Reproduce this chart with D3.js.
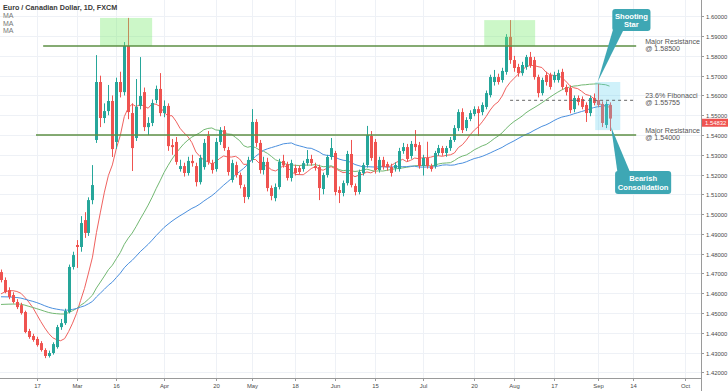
<!DOCTYPE html>
<html>
<head>
<meta charset="utf-8">
<script src="https://cdn.jsdelivr.net/npm/d3@7"></script>
<style>
  html, body { margin: 0; padding: 0; background: #fff; }
  svg { display: block; font-family: "Liberation Sans", Arial, sans-serif; }
</style>
</head>
<body>
<svg id="chart" width="728" height="391"></svg>
<script>
// EUR/CAD daily, FXCM, 4 Feb 2020 .. 4 Sep 2020
const firstDay = "2020-02-04";

const open = [
  1.4707,1.4667,1.4616,1.4591,1.4556,1.4540,1.4505,1.4409,1.4384,1.4369,1.4348,1.4313,1.4283,1.4298,1.4328,1.4429,1.4449,1.4505,1.4733,1.4844,
  1.4834,1.4970,1.4905,1.5071,1.5375,1.5668,1.5486,1.5521,1.5572,1.5365,1.5668,1.5617,1.5850,1.5511,1.5385,1.5547,1.5617,1.5440,1.5461,1.5577,
  1.5633,1.5511,1.5547,1.5349,1.5365,1.5228,1.5243,1.5208,1.5269,1.5243,1.5162,1.5238,1.5395,1.5258,1.5228,1.5365,1.5425,1.5324,1.5173,1.5248,
  1.5198,1.5137,1.5087,1.5274,1.5466,1.5360,1.5223,1.5264,1.5132,1.5081,1.5137,1.5269,1.5253,1.5183,1.5233,1.5233,1.5228,1.5258,1.5279,1.5243,
  1.5238,1.5127,1.5198,1.5289,1.5309,1.5122,1.5107,1.5157,1.5304,1.5142,1.5112,1.5208,1.5248,1.5395,1.5365,1.5223,1.5274,1.5253,1.5238,1.5233,
  1.5228,1.5319,1.5339,1.5294,1.5355,1.5349,1.5243,1.5284,1.5243,1.5243,1.5309,1.5334,1.5309,1.5334,1.5375,1.5435,1.5516,1.5435,1.5481,1.5506,
  1.5531,1.5516,1.5542,1.5602,1.5668,1.5693,1.5678,1.5719,1.5896,1.5779,1.5744,1.5713,1.5744,1.5794,1.5779,1.5693,1.5612,1.5703,1.5703,1.5678,
  1.5678,1.5719,1.5643,1.5638,1.5531,1.5587,1.5582,1.5552,1.5511,1.5587,1.5577,1.5557,1.5451,1.5552
];
const high = [
  1.4720,1.4680,1.4630,1.4605,1.4570,1.4552,1.4512,1.4420,1.4395,1.4380,1.4358,1.4322,1.4310,1.4352,1.4440,1.4470,1.4522,1.4745,1.4810,1.4869,
  1.4990,1.5010,1.5085,1.5248,1.5804,1.5700,1.5560,1.5653,1.5600,1.5690,1.5720,1.5870,1.5992,1.5560,1.5683,1.5794,1.5640,1.5490,1.5580,1.5650,
  1.5713,1.5575,1.5560,1.5380,1.5390,1.5275,1.5260,1.5290,1.5300,1.5260,1.5300,1.5380,1.5420,1.5275,1.5385,1.5440,1.5445,1.5340,1.5275,1.5265,
  1.5210,1.5150,1.5290,1.5531,1.5480,1.5375,1.5290,1.5285,1.5145,1.5155,1.5280,1.5300,1.5265,1.5275,1.5250,1.5245,1.5270,1.5324,1.5300,1.5260,
  1.5250,1.5210,1.5300,1.5385,1.5320,1.5140,1.5170,1.5320,1.5375,1.5155,1.5225,1.5260,1.5446,1.5420,1.5380,1.5290,1.5290,1.5265,1.5255,1.5262,
  1.5335,1.5360,1.5355,1.5370,1.5425,1.5365,1.5300,1.5366,1.5255,1.5320,1.5350,1.5345,1.5345,1.5390,1.5450,1.5530,1.5535,1.5490,1.5525,1.5545,
  1.5545,1.5565,1.5625,1.5705,1.5729,1.5710,1.5740,1.5910,1.5981,1.5800,1.5760,1.5770,1.5805,1.5820,1.5795,1.5705,1.5690,1.5720,1.5715,1.5720,
  1.5730,1.5735,1.5655,1.5650,1.5600,1.5600,1.5595,1.5565,1.5600,1.5610,1.5658,1.5570,1.5570,1.5565
];
const low = [
  1.4655,1.4600,1.4570,1.4548,1.4520,1.4492,1.4398,1.4370,1.4355,1.4330,1.4305,1.4272,1.4275,1.4290,1.4320,1.4415,1.4440,1.4498,1.4720,1.4728,
  1.4810,1.4880,1.4890,1.5050,1.5360,1.5440,1.5460,1.5500,1.5289,1.5330,1.5590,1.5600,1.5480,1.5218,1.5370,1.5530,1.5420,1.5400,1.5445,1.5560,
  1.5495,1.5490,1.5320,1.5300,1.5250,1.5215,1.5190,1.5195,1.5240,1.5140,1.5150,1.5225,1.5250,1.5205,1.5215,1.5350,1.5320,1.5195,1.5160,1.5185,
  1.5130,1.5056,1.5075,1.5260,1.5340,1.5205,1.5200,1.5115,1.5070,1.5065,1.5125,1.5235,1.5170,1.5165,1.5195,1.5200,1.5215,1.5245,1.5245,1.5220,
  1.5071,1.5100,1.5185,1.5275,1.5095,1.5056,1.5090,1.5145,1.5135,1.5095,1.5100,1.5195,1.5235,1.5270,1.5205,1.5210,1.5225,1.5220,1.5190,1.5215,
  1.5215,1.5305,1.5265,1.5280,1.5320,1.5230,1.5195,1.5230,1.5215,1.5230,1.5295,1.5295,1.5290,1.5320,1.5365,1.5420,1.5410,1.5420,1.5470,1.5495,
  1.5395,1.5500,1.5530,1.5590,1.5650,1.5655,1.5665,1.5705,1.5760,1.5720,1.5695,1.5700,1.5730,1.5740,1.5680,1.5590,1.5600,1.5650,1.5630,1.5665,
  1.5665,1.5630,1.5600,1.5510,1.5515,1.5550,1.5530,1.5466,1.5495,1.5550,1.5540,1.5440,1.5435,1.5420
];
const close = [
  1.4667,1.4606,1.4581,1.4556,1.4530,1.4500,1.4404,1.4379,1.4364,1.4338,1.4313,1.4283,1.4298,1.4343,1.4429,1.4449,1.4510,1.4733,1.4793,1.4834,
  1.4955,1.4905,1.5071,1.5147,1.5668,1.5486,1.5521,1.5572,1.5329,1.5668,1.5617,1.5850,1.5516,1.5334,1.5542,1.5597,1.5440,1.5461,1.5562,1.5633,
  1.5511,1.5547,1.5344,1.5339,1.5264,1.5243,1.5208,1.5269,1.5258,1.5162,1.5284,1.5360,1.5264,1.5223,1.5365,1.5425,1.5334,1.5213,1.5258,1.5198,
  1.5147,1.5087,1.5274,1.5466,1.5360,1.5223,1.5264,1.5132,1.5092,1.5137,1.5264,1.5248,1.5183,1.5258,1.5208,1.5213,1.5258,1.5279,1.5258,1.5233,
  1.5132,1.5198,1.5289,1.5334,1.5112,1.5107,1.5157,1.5304,1.5147,1.5112,1.5213,1.5248,1.5400,1.5284,1.5223,1.5274,1.5238,1.5238,1.5208,1.5248,
  1.5319,1.5339,1.5279,1.5355,1.5339,1.5243,1.5284,1.5243,1.5228,1.5309,1.5334,1.5309,1.5334,1.5375,1.5435,1.5516,1.5425,1.5476,1.5511,1.5531,
  1.5511,1.5552,1.5612,1.5693,1.5693,1.5668,1.5724,1.5896,1.5779,1.5739,1.5713,1.5754,1.5794,1.5754,1.5693,1.5612,1.5678,1.5668,1.5643,1.5703,
  1.5713,1.5643,1.5617,1.5526,1.5587,1.5567,1.5542,1.5511,1.5587,1.5562,1.5552,1.5461,1.5557,1.54832
];
// estimated closes of the 49 sessions before the first candle, only to start the moving averages
const warmup = [
  1.4620,1.4605,1.4630,1.4610,1.4645,1.4680,1.4660,1.4630,1.4655,1.4690,1.4700,1.4665,1.4640,1.4620,1.4615,1.4640,1.4660,1.4635,1.4610,1.4600,
  1.4580,1.4560,1.4545,1.4530,1.4520,1.4545,1.4560,1.4540,1.4520,1.4500,1.4490,1.4480,1.4470,1.4485,1.4500,1.4510,1.4520,1.4505,1.4495,1.4480,
  1.4500,1.4530,1.4550,1.4570,1.4590,1.4610,1.4620,1.4640,1.4690
];
const maPeriods = [10, 30, 50];

const priceTicks = [1.42,1.43,1.44,1.45,1.46,1.47,1.48,1.49,1.50,1.51,1.52,1.53,1.54,1.55,1.56,1.57,1.58,1.59,1.60];
const tickDates = ["2020-02-17","2020-03-02","2020-03-16","2020-04-01","2020-04-20","2020-05-01","2020-05-18","2020-06-01",
                   "2020-06-15","2020-07-01","2020-07-20","2020-08-03","2020-08-17","2020-09-01","2020-09-14","2020-10-01"];
const tickLabels = ["17","Mar","16","Apr","20","May","18","Jun","15","Jul","20","Aug","17","Sep","14","Oct"];

const resistance = [1.585, 1.54];
const fibLevel = 1.55755;

class CandleChart {
  constructor(el) {
    this.svg = d3.select(el);
    this.width = 728;
    this.height = 391;
    this.right = 701;
    this.bottom = 378;
    this.up = "#26a69a";
    this.down = "#ef5350";
    this.maColors = ["#f0625f", "#72b872", "#4a8fde"];
    this.axisFont = 5.9;
    this.init();
  }

  init() {
    this.days = this.tradingDays(firstDay, 190);
    this.x = d3.scaleLinear().domain([-0.25, 176]).range([0, this.right]);
    this.y = d3.scaleLinear().domain([1.41716, 1.60826]).range([this.bottom, 0]);
    this.svg.append("defs").append("clipPath").attr("id", "plot")
      .append("rect").attr("width", this.right).attr("height", this.bottom);
    this.addGrid();
    this.plot = this.svg.append("g").attr("clip-path", "url(#plot)");
    this.addMA();
    this.addCandles();
    this.addDrawings();
    this.addAxes();
    this.addTitle();
  }

  tradingDays(start, n) {
    const out = [];
    let d = new Date(start + "T00:00:00Z");
    const fmt = d3.utcFormat("%Y-%m-%d");
    while (out.length < n) {
      const wd = d.getUTCDay();
      if (wd !== 0 && wd !== 6) out.push(fmt(d));
      d = d3.utcDay.offset(d, 1);
    }
    return out;
  }

  addGrid() {
    const g = this.svg.append("g").attr("stroke", "#eef1f6").attr("stroke-width", 1);
    g.selectAll(".hg").data(priceTicks).enter().append("line")
      .attr("x1", 0).attr("x2", this.right)
      .attr("y1", d => Math.round(this.y(d)) + 0.5).attr("y2", d => Math.round(this.y(d)) + 0.5);
    g.selectAll(".vg").data(tickDates).enter().append("line")
      .attr("y1", 0).attr("y2", this.bottom)
      .attr("x1", d => Math.round(this.x(this.days.indexOf(d))) + 0.5)
      .attr("x2", d => Math.round(this.x(this.days.indexOf(d))) + 0.5);
  }

  addMA() {
    const all = warmup.concat(close);
    const off = warmup.length;
    maPeriods.forEach((p, k) => {
      const pts = close.map((c, i) => [i, d3.mean(all.slice(i + off - p + 1, i + off + 1))]);
      this.plot.append("path")
        .attr("fill", "none").attr("stroke", this.maColors[k]).attr("stroke-width", 1)
        .attr("d", d3.line().x(d => this.x(d[0])).y(d => this.y(d[1]))(pts));
    });
  }

  addCandles() {
    const g = this.plot.append("g");
    const data = close.map((c, i) => ({ i, o: open[i], h: high[i], l: low[i], c }));
    const col = d => d.c >= d.o ? this.up : this.down;
    g.selectAll(".wick").data(data).enter().append("line")
      .attr("x1", d => Math.round(this.x(d.i)) + 0.5).attr("x2", d => Math.round(this.x(d.i)) + 0.5)
      .attr("y1", d => this.y(d.h)).attr("y2", d => this.y(d.l))
      .attr("stroke", col).attr("stroke-width", 1);
    g.selectAll(".body").data(data).enter().append("rect")
      .attr("x", d => Math.round(this.x(d.i)) - 1)
      .attr("width", 3)
      .attr("y", d => this.y(Math.max(d.o, d.c)))
      .attr("height", d => Math.max(1, Math.abs(this.y(d.o) - this.y(d.c))))
      .attr("fill", col);
  }

  addDrawings() {
    const x = this.x, y = this.y;
    const g = this.svg.append("g");
    // highlighted zones
    [[24.9, 38.0, 1.5992, 1.585], [121.5, 134.3, 1.5981, 1.585]].forEach(z => {
      g.append("rect").attr("x", x(z[0])).attr("width", x(z[1]) - x(z[0]))
        .attr("y", y(z[2])).attr("height", y(z[3]) - y(z[2]))
        .attr("fill", "rgba(120,235,110,0.38)");
    });
    g.append("rect").attr("x", x(149.4)).attr("width", x(155.7) - x(149.4))
      .attr("y", y(1.5668)).attr("height", y(1.5425) - y(1.5668))
      .attr("fill", "rgba(95,210,240,0.30)");

    // levels
    const starts = [10.6, 8.8];
    const lineEnd = 159.7;
    resistance.forEach((lv, k) => {
      g.append("line").attr("x1", x(starts[k])).attr("x2", x(lineEnd))
        .attr("y1", y(lv)).attr("y2", y(lv))
        .attr("stroke", "#5c8f45").attr("stroke-width", 1.3);
    });
    g.append("line").attr("x1", x(128)).attr("x2", x(lineEnd))
      .attr("y1", y(fibLevel)).attr("y2", y(fibLevel))
      .attr("stroke", "#666").attr("stroke-width", 1).attr("stroke-dasharray", "3,3");

    const labels = [
      [resistance[0], "Major Resistance", "@ " + resistance[0].toFixed(5)],
      [fibLevel, "23.6% Fibonacci", "@ " + fibLevel.toFixed(5)],
      [resistance[1], "Major Resistance", "@ " + resistance[1].toFixed(5)]
    ];
    const lx = x(lineEnd) + 9;
    labels.forEach(l => {
      const t = g.append("text").attr("y", y(l[0]) - 2.2)
        .attr("font-size", 7.1).attr("fill", "#555");
      t.append("tspan").attr("x", lx).text(l[1]);
      t.append("tspan").attr("x", lx).attr("dy", 6.8).text(l[2]);
    });

    // callouts
    const callout = (bx0, bx1, by0, by1, base, tip, lines) => {
      const X0 = x(bx0), X1 = x(bx1), Y0 = y(by0), Y1 = y(by1);
      g.append("path").attr("fill", "#3ea7b4")
        .attr("d", `M${x(base[0])},${y(base[2])}L${x(tip[0])},${y(tip[1])}L${x(base[1])},${y(base[2])}Z`);
      g.append("rect").attr("x", X0).attr("y", Y0).attr("width", X1 - X0).attr("height", Y1 - Y0)
        .attr("rx", 3).attr("fill", "#3ea7b4");
      const t = g.append("text").attr("text-anchor", "middle").attr("font-size", 7.6)
        .attr("font-weight", "bold").attr("fill", "#fff")
        .attr("y", (Y0 + Y1) / 2 - 1.2);
      lines.forEach((s, k) => t.append("tspan").attr("x", (X0 + X1) / 2).attr("dy", k ? 8.6 : 0).text(s));
    };
    callout(153.7, 163.3, 1.6037, 1.5926, [153.9, 156.6, 1.5935], [150.0, 1.5668], ["Shooting", "Star"]);
    callout(154.4, 168.5, 1.5218, 1.5102, [155.0, 158.2, 1.5210], [153.4, 1.5440], ["Bearish", "Consolidation"]);
  }

  addAxes() {
    const g = this.svg.append("g").attr("font-size", this.axisFont).attr("fill", "#4a4a4a");
    g.append("line").attr("x1", 0).attr("x2", this.right).attr("y1", this.bottom + 0.5).attr("y2", this.bottom + 0.5)
      .attr("stroke", "#9a9a9a");
    g.append("line").attr("x1", this.right + 0.5).attr("x2", this.right + 0.5).attr("y1", 0).attr("y2", this.height)
      .attr("stroke", "#9a9a9a");
    priceTicks.forEach(p => {
      const yy = Math.round(this.y(p)) + 0.5;
      g.append("line").attr("x1", this.right).attr("x2", this.right + 3).attr("y1", yy).attr("y2", yy).attr("stroke", "#9a9a9a");
      g.append("text").attr("x", this.right + 5).attr("y", yy + 2.1).text(p.toFixed(5));
    });
    tickDates.forEach((d, k) => {
      const xx = Math.round(this.x(this.days.indexOf(d))) + 0.5;
      g.append("line").attr("x1", xx).attr("x2", xx).attr("y1", this.bottom).attr("y2", this.bottom + 3).attr("stroke", "#9a9a9a");
      g.append("text").attr("x", xx).attr("y", this.bottom + 10).attr("text-anchor", "middle").text(tickLabels[k]);
    });
    // last price tag, pushed clear of the nearest tick label
    const last = close[close.length - 1];
    let ly = this.y(last);
    priceTicks.forEach(p => {
      const ty = this.y(p);
      if (Math.abs(ly - ty) < 7.5) ly = ly >= ty ? ty + 7.5 : ty - 7.5;
    });
    g.append("rect").attr("x", this.right + 1).attr("y", ly - 4).attr("width", this.width - this.right - 1).attr("height", 8)
      .attr("fill", this.down);
    g.append("text").attr("x", this.right + 4).attr("y", ly + 2.1).attr("fill", "#fff").text(last.toFixed(5));
  }

  addTitle() {
    const g = this.svg.append("g");
    g.append("text").attr("x", 3).attr("y", 9.5).attr("font-size", 7.2).attr("font-weight", "bold")
      .attr("fill", "#3a3a3a").text("Euro / Canadian Dollar, 1D, FXCM");
    maPeriods.forEach((p, k) => {
      g.append("text").attr("x", 3).attr("y", 17.8 + k * 7.7).attr("font-size", 7)
        .attr("fill", "#777").text("MA");
    });
  }
}

new CandleChart("#chart");
</script>
</body>
</html>
